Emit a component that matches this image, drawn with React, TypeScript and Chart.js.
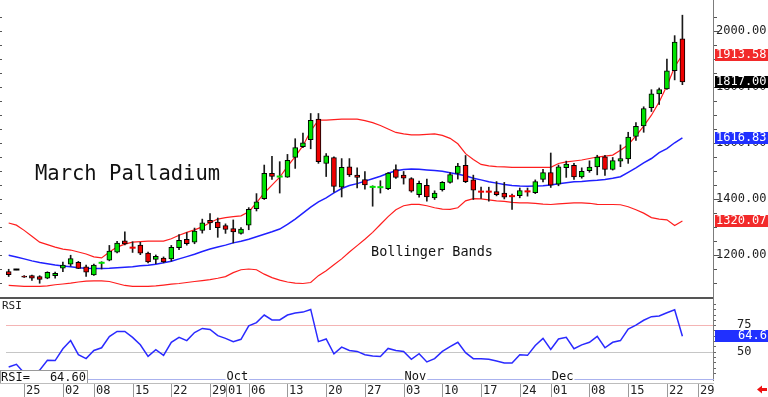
import React, { useEffect, useRef } from 'react';
import { Chart, registerables } from 'chart.js';

Chart.register(...registerables);

// ---- Data (trading-day index 0..87) ----
const openPrices = [
  1140, 1147, 1124, 1125, 1122, 1116, 1125, 1152, 1166, 1173,
  1157, 1128, 1170, 1180, 1209, 1249, 1226, 1234, 1206, 1183,
  1188, 1185, 1225, 1255, 1245, 1287, 1323, 1316, 1304, 1293,
  1276, 1305, 1364, 1400, 1490, 1478, 1477, 1547, 1586, 1611,
  1684, 1526, 1547, 1441, 1514, 1484, 1468, 1441, 1440, 1436,
  1504, 1484, 1472, 1414, 1448, 1403, 1432, 1458, 1490, 1519,
  1467, 1426, 1426, 1425, 1420, 1410, 1411, 1427, 1421, 1469,
  1493, 1452, 1511, 1519, 1478, 1500, 1513, 1549, 1504, 1534,
  1542, 1622, 1660, 1725, 1774, 1792, 1857, 1971,
];
const highPrices = [
  1148, 1148, 1125, 1127, 1125, 1139, 1138, 1174, 1198, 1176,
  1163, 1166, 1175, 1233, 1248, 1282, 1246, 1244, 1209, 1199,
  1192, 1233, 1272, 1279, 1295, 1327, 1347, 1331, 1310, 1324,
  1297, 1368, 1418, 1520, 1551, 1532, 1558, 1614, 1634, 1704,
  1704, 1561, 1549, 1543, 1543, 1510, 1497, 1446, 1464, 1493,
  1521, 1497, 1475, 1463, 1470, 1428, 1461, 1493, 1526, 1554,
  1484, 1441, 1441, 1461, 1458, 1416, 1438, 1438, 1467, 1505,
  1563, 1520, 1534, 1526, 1510, 1535, 1555, 1555, 1547, 1592,
  1637, 1672, 1728, 1789, 1795, 1898, 1982, 2055,
];
const lowPrices = [
  1122, 1146, 1119, 1108, 1098, 1114, 1116, 1139, 1159, 1150,
  1122, 1126, 1149, 1178, 1206, 1235, 1208, 1200, 1171, 1168,
  1171, 1177, 1218, 1234, 1239, 1277, 1289, 1262, 1276, 1242,
  1273, 1289, 1356, 1397, 1469, 1420, 1476, 1508, 1582, 1578,
  1526, 1479, 1423, 1406, 1479, 1438, 1434, 1373, 1420, 1432,
  1472, 1452, 1423, 1405, 1391, 1397, 1427, 1455, 1470, 1457,
  1397, 1401, 1391, 1410, 1399, 1362, 1403, 1409, 1418, 1460,
  1440, 1446, 1476, 1469, 1473, 1494, 1485, 1483, 1502, 1514,
  1526, 1608, 1637, 1711, 1736, 1790, 1824, 1807,
];
const closePrices = [
  1129, 1147, 1120, 1116, 1112, 1137, 1133, 1163, 1186, 1151,
  1138, 1163, 1171, 1213, 1241, 1238, 1225, 1205, 1174, 1194,
  1174, 1226, 1251, 1239, 1284, 1314, 1313, 1296, 1290, 1281,
  1291, 1362, 1389, 1490, 1479, 1479, 1537, 1582, 1599, 1680,
  1532, 1553, 1444, 1512, 1485, 1476, 1449, 1442, 1441, 1491,
  1476, 1473, 1427, 1455, 1406, 1420, 1458, 1486, 1516, 1461,
  1430, 1425, 1425, 1414, 1405, 1409, 1429, 1426, 1461, 1493,
  1448, 1514, 1523, 1478, 1498, 1513, 1548, 1504, 1536, 1543,
  1620, 1658, 1722, 1774, 1789, 1856, 1959, 1817,
];
const upperBand = [
  1313.2, 1305.5, 1286.8, 1265.8, 1244.7, 1235.9, 1227.1, 1220.1, 1216.6, 1209.5,
  1202.5, 1192.0, 1188.5, 1209.5, 1227.1, 1237.7, 1244.7, 1246.4, 1248.2, 1248.2,
  1248.2, 1257.0, 1269.3, 1279.8, 1288.6, 1299.1, 1314.9, 1327.2, 1332.5, 1336.0,
  1338.5, 1353.6, 1385.2, 1420.3, 1448.4, 1476.5, 1515.2, 1550.3, 1589.0, 1641.6,
  1680.3, 1680.3, 1682.0, 1683.8, 1683.8, 1683.8, 1678.5, 1671.5, 1661.0, 1648.7,
  1636.4, 1631.1, 1627.6, 1627.6, 1629.4, 1631.1, 1625.8, 1615.3, 1596.0, 1560.8,
  1539.8, 1522.2, 1516.9, 1514.1, 1513.4, 1511.7, 1511.7, 1511.7, 1511.7, 1511.7,
  1511.7, 1525.7, 1531.0, 1534.5, 1538.0, 1543.3, 1548.6, 1552.1, 1555.6, 1573.1,
  1592.5, 1624.1, 1659.2, 1697.9, 1745.3, 1803.2, 1870.0, 1913.58,
];
const middleBand = [
  1198.0, 1192.0, 1185.0, 1177.9, 1172.0, 1167.4, 1162.8, 1159.3, 1156.9, 1153.3,
  1151.6, 1150.9, 1150.9, 1151.6, 1153.3, 1155.1, 1156.9, 1160.4, 1162.1, 1165.6,
  1170.9, 1176.9, 1185.0, 1193.0, 1201.5, 1211.3, 1220.1, 1227.1, 1234.1, 1242.2,
  1248.2, 1255.2, 1264.0, 1272.8, 1281.6, 1291.4, 1307.9, 1327.2, 1348.3, 1369.4,
  1388.7, 1402.8, 1420.3, 1436.1, 1446.7, 1453.7, 1462.5, 1471.3, 1480.1, 1490.6,
  1499.4, 1503.9, 1505.7, 1504.6, 1502.2, 1500.1, 1497.6, 1492.3, 1487.1, 1481.8,
  1473.0, 1467.1, 1460.7, 1455.5, 1450.2, 1446.7, 1444.9, 1443.9, 1444.9, 1446.0,
  1448.4, 1453.0, 1457.2, 1460.0, 1461.4, 1464.2, 1466.0, 1468.5, 1473.0, 1478.3,
  1494.1, 1509.9, 1527.5, 1543.3, 1564.4, 1578.4, 1599.5, 1616.83,
];
const lowerBand = [
  1090.1, 1088.3, 1086.6, 1086.6, 1086.6, 1088.3, 1092.6, 1095.4, 1098.2, 1102.4,
  1105.9, 1106.6, 1106.6, 1104.2, 1097.1, 1090.1, 1086.6, 1086.6, 1086.6, 1088.3,
  1091.2, 1094.7, 1097.1, 1100.6, 1104.2, 1107.7, 1111.2, 1115.8, 1121.7, 1135.8,
  1146.3, 1148.8, 1146.3, 1130.5, 1118.2, 1109.4, 1102.4, 1098.2, 1097.1, 1100.6,
  1125.2, 1142.8, 1163.9, 1185.0, 1209.5, 1232.4, 1255.2, 1279.8, 1307.9, 1336.0,
  1360.6, 1374.7, 1379.9, 1379.9, 1374.7, 1367.6, 1362.4, 1361.7, 1367.6, 1392.2,
  1400.3, 1399.3, 1395.7, 1392.2, 1390.5, 1387.0, 1385.2, 1385.2, 1383.5, 1380.6,
  1379.2, 1381.7, 1383.5, 1385.2, 1385.2, 1383.5, 1379.9, 1379.2, 1379.2, 1378.2,
  1371.1, 1360.6, 1348.3, 1332.5, 1327.2, 1324.4, 1304.4, 1320.07,
];
const rsiValues = [
  35.7, 38.2, 29.9, 29.0, 32.7, 41.9, 41.7, 52.8, 60.5, 47.2,
  43.5, 51.2, 53.7, 64.2, 69.1, 69.1, 63.5, 56.5, 45.6, 51.9,
  46.6, 58.9, 63.5, 60.5, 68.1, 71.9, 70.9, 65.1, 62.6, 59.5,
  61.7, 74.4, 77.4, 84.5, 79.9, 79.9, 84.5, 86.4, 87.3, 89.8,
  59.5, 62.0, 48.1, 54.3, 51.2, 50.3, 47.2, 45.9, 45.6, 53.1,
  51.2, 50.3, 42.9, 48.1, 40.4, 43.5, 50.3, 54.9, 58.9, 49.1,
  43.5, 43.5, 42.9, 41.3, 39.4, 39.4, 47.2, 46.6, 55.8, 62.6,
  52.1, 62.0, 63.5, 52.8, 56.5, 58.9, 64.4, 53.7, 58.9, 60.5,
  71.3, 75.0, 79.6, 83.0, 83.6, 86.7, 89.4, 64.6,
];
const weekTickIndex = [2, 7, 11, 16, 21, 26, 28, 31, 36, 41, 46, 51, 56, 61, 66, 70, 75, 80, 85, 89];
const weekTickLabels = ['25', '02', '08', '15', '22', '29', '01', '06', '13', '20', '27', '03', '10', '17', '24', '01', '08', '15', '22', '29'];
const monthTickIndex = [28, 51, 70];
const monthLabels = ['Oct', 'Nov', 'Dec'];
const priceAxisLabels = [1200, 1400, 1600, 1800, 2000];
const rsiAxisLabels = [75, 50];
const lastClose = 1817.0;
const lastUpper = 1913.58;
const lastMiddle = 1616.83;
const lastLower = 1320.07;
const lastRsi = 64.6;
const chartTitle = 'March Palladium';
const studyTitle = 'Bollinger Bands';

// ---- Scale ranges ----
const X_MIN = -0.346;
const X_MAX = 91.08;
const PRICE_MIN = 752.6;
const PRICE_MAX = 2087.8;
const RSI_MIN = 23.4;
const RSI_MAX = 375.3;

// ---- Styles ----
const GREEN = '#00e400';
const RED = '#ee0000';
const BAND_RED = '#ff1e1e';
const BAND_BLUE = '#2020ff';
const RSI_BLUE = '#2a2aff';
const MONO = '"DejaVu Sans Mono", monospace';

const idx = closePrices.map((_, i) => i);
const isDoji = idx.map((i) => Math.abs(closePrices[i] - openPrices[i]) <= 2);
const candleColor = (i: number) =>
  closePrices[i] > openPrices[i] ? GREEN : closePrices[i] < openPrices[i] ? RED : '#000000';

const dojiIdx = idx.filter((i) => isDoji[i]);
const bodyIdx = idx.filter((i) => !isDoji[i]);

function hLine(ctx: CanvasRenderingContext2D, x1: number, x2: number, y: number, color: string) {
  const yy = Math.round(y) + 0.5;
  ctx.strokeStyle = color;
  ctx.lineWidth = 1;
  ctx.beginPath();
  ctx.moveTo(x1, yy);
  ctx.lineTo(x2, yy);
  ctx.stroke();
}

function text(ctx: CanvasRenderingContext2D, s: string, x: number, y: number, font: string, color: string, align: CanvasTextAlign = 'left', baseline: CanvasTextBaseline = 'middle') {
  ctx.font = font;
  ctx.fillStyle = color;
  ctx.textAlign = align;
  ctx.textBaseline = baseline;
  ctx.fillText(s, x, y);
}

const overlayPlugin = {
  id: 'overlayPlugin',
  beforeDatasetsDraw(chart: any) {
    const { ctx, chartArea, scales } = chart;
    const r = scales.yRsi;
    ctx.save();
    hLine(ctx, chartArea.left, chartArea.right, r.getPixelForValue(75), '#f4b4b4');
    hLine(ctx, chartArea.left, chartArea.right, r.getPixelForValue(50), '#c6c6c6');
    ctx.restore();
  },
  afterDatasetsDraw(chart: any) {
    const { ctx, chartArea, scales } = chart;
    const xs = scales.x;
    const ys = scales.y;
    const r = scales.yRsi;
    const right = chartArea.right;
    const splitY = 297;
    ctx.save();

    // titles
    text(ctx, chartTitle, 35, 180, `20.5px ${MONO}`, '#111', 'left', 'alphabetic');
    text(ctx, studyTitle, 371, 256, `13.5px ${MONO}`, '#111', 'left', 'alphabetic');

    // panel separator
    ctx.fillStyle = '#555555';
    ctx.fillRect(0, splitY, right, 2);

    // right axis line
    ctx.strokeStyle = '#7c7c7c';
    ctx.lineWidth = 1;
    ctx.beginPath();
    ctx.moveTo(right - 0.5, 0);
    ctx.lineTo(right - 0.5, 381);
    ctx.stroke();

    // price ticks
    ctx.strokeStyle = '#555';
    for (let v = 1100; v <= 2080; v += 50) {
      const py = Math.round(ys.getPixelForValue(v)) + 0.5;
      if (py < 2 || py > splitY - 4) continue;
      const major = v % 200 === 0;
      ctx.beginPath();
      ctx.moveTo(right, py);
      ctx.lineTo(right + (major ? 5 : 3), py);
      ctx.moveTo(0, py);
      ctx.lineTo(2, py);
      ctx.stroke();
    }
    // price labels
    priceAxisLabels.forEach((v) => {
      text(ctx, v.toFixed(2), right + 2, ys.getPixelForValue(v), `12px ${MONO}`, '#222');
    });
    // value boxes
    const box = (v: number, bg: string) => {
      const py = ys.getPixelForValue(v);
      ctx.fillStyle = bg;
      ctx.fillRect(right + 1, Math.round(py) - 6, 768 - right - 1, 12);
      text(ctx, v.toFixed(2), right + 2, py, `12px ${MONO}`, '#ffffff');
    };
    box(lastUpper, '#f22a2a');
    box(lastClose, '#000000');
    box(lastMiddle, '#2030ff');
    box(lastLower, '#f22a2a');

    // RSI panel
    text(ctx, 'RSI', 2, 306, `11px ${MONO}`, '#222');
    ctx.strokeStyle = '#666';
    for (let v = 30; v <= 95; v += 5) {
      const py = Math.round(r.getPixelForValue(v)) + 0.5;
      ctx.beginPath();
      ctx.moveTo(right, py);
      ctx.lineTo(right + 2, py);
      ctx.stroke();
    }
    rsiAxisLabels.forEach((v) => {
      text(ctx, String(v), 737, r.getPixelForValue(v), `12px ${MONO}`, '#222');
    });
    const ry = r.getPixelForValue(lastRsi);
    ctx.fillStyle = '#2030ff';
    ctx.fillRect(right + 1, Math.round(ry) - 6, 768 - right - 1, 12);
    text(ctx, lastRsi.toFixed(1), 738, ry, `12px ${MONO}`, '#ffffff');

    // bottom strip of RSI panel
    hLine(ctx, 88, right, 379, '#aab2ee');
    ctx.fillStyle = '#ffffff';
    ctx.fillRect(0, 370, 88, 13.5);
    ctx.strokeStyle = '#9a9a9a';
    ctx.strokeRect(0.5, 370.5, 87, 13);
    text(ctx, 'RSI=', 1, 377.5, `12px ${MONO}`, '#111');
    text(ctx, lastRsi.toFixed(2), 86, 377.5, `12px ${MONO}`, '#111', 'right');

    monthTickIndex.forEach((mi, k) => {
      const mx = xs.getPixelForValue(mi) + 1;
      ctx.font = `12px ${MONO}`;
      const w = ctx.measureText(monthLabels[k]).width;
      ctx.fillStyle = '#ffffff';
      ctx.fillRect(mx - 1, 371, w + 2, 10);
      text(ctx, monthLabels[k], mx, 376.5, `12px ${MONO}`, '#111');
    });

    // date row
    hLine(ctx, 0, right, 383, '#bdbdbd');
    weekTickIndex.forEach((wi, k) => {
      const sx = Math.round(xs.getPixelForValue(wi)) + 0.5;
      ctx.strokeStyle = '#9a9a9a';
      ctx.beginPath();
      ctx.moveTo(sx, 384);
      ctx.lineTo(sx, 397);
      ctx.stroke();
      text(ctx, weekTickLabels[k], sx + 1.5, 391, `12px ${MONO}`, '#222');
    });

    // small red arrow
    ctx.fillStyle = '#ee1111';
    ctx.beginPath();
    ctx.moveTo(757, 389.5);
    ctx.lineTo(762, 385.5);
    ctx.lineTo(762, 393.5);
    ctx.closePath();
    ctx.fill();
    ctx.fillRect(761, 388, 6, 3);

    ctx.restore();
  },
};

export default function App() {
  const canvasRef = useRef<HTMLCanvasElement>(null);

  useEffect(() => {
    document.body.style.margin = '0';
    const canvas = canvasRef.current;
    if (!canvas) return;

    const lineDs = (label: string, values: number[], color: string, width: number, axis: string) => ({
      type: 'line' as const,
      label,
      data: values.map((v, i) => ({ x: i, y: v })),
      borderColor: color,
      borderWidth: width,
      pointRadius: 0,
      tension: 0,
      fill: false,
      yAxisID: axis,
      order: 3,
    });

    const chart = new Chart(canvas, {
      type: 'bar',
      data: {
        datasets: [
          {
            type: 'line',
            label: 'doji',
            data: dojiIdx.map((i) => ({ x: i, y: closePrices[i] })),
            showLine: false,
            pointStyle: 'line',
            pointRadius: 3,
            pointBorderWidth: 2,
            pointBorderColor: dojiIdx.map(candleColor),
            yAxisID: 'y',
            order: 0,
          } as any,
          {
            type: 'bar',
            label: 'body',
            data: bodyIdx.map((i) => ({ x: i, y: [openPrices[i], closePrices[i]] })),
            backgroundColor: bodyIdx.map(candleColor),
            borderColor: '#000000',
            borderWidth: 1,
            borderSkipped: false,
            barThickness: 5,
            grouped: false,
            yAxisID: 'y',
            order: 1,
          } as any,
          {
            type: 'bar',
            label: 'wick',
            data: idx.map((i) => ({ x: i, y: [lowPrices[i], highPrices[i]] })),
            backgroundColor: '#1a1a1a',
            borderWidth: 0,
            barThickness: 1,
            grouped: false,
            yAxisID: 'y',
            order: 2,
          } as any,
          lineDs('upper', upperBand, BAND_RED, 1.2, 'y') as any,
          lineDs('middle', middleBand, BAND_BLUE, 1.5, 'y') as any,
          lineDs('lower', lowerBand, BAND_RED, 1.2, 'y') as any,
          lineDs('rsi', rsiValues, RSI_BLUE, 1.5, 'yRsi') as any,
        ],
      },
      options: {
        animation: false,
        responsive: false,
        devicePixelRatio: 1,
        events: [],
        layout: { padding: { left: 0, right: 54, top: 0, bottom: 17 } },
        plugins: { legend: { display: false }, tooltip: { enabled: false } },
        scales: {
          x: { type: 'linear', min: X_MIN, max: X_MAX, offset: false, display: false },
          y: { type: 'linear', min: PRICE_MIN, max: PRICE_MAX, display: false },
          yRsi: { type: 'linear', axis: 'y', min: RSI_MIN, max: RSI_MAX, display: false },
        },
      } as any,
      plugins: [overlayPlugin],
    });

    return () => chart.destroy();
  }, []);

  return (
    <div style={{ width: 768, height: 397, position: 'relative', background: '#ffffff' }}>
      <canvas ref={canvasRef} width={768} height={397} style={{ display: 'block' }} />
    </div>
  );
}
